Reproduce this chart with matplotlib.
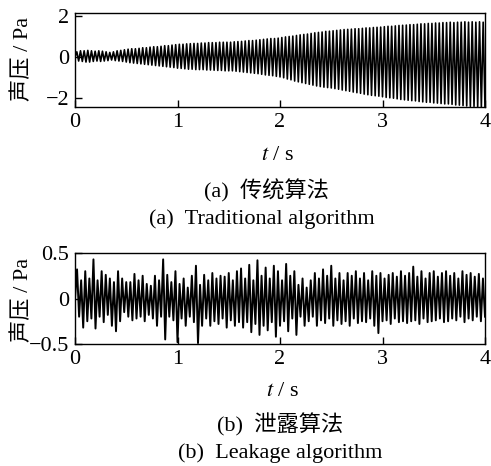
import numpy as np
import matplotlib
matplotlib.use("Agg")
import matplotlib.pyplot as plt

plt.rcParams["font.family"] = ["Liberation Serif", "Noto Sans CJK SC"]
plt.rcParams["mathtext.fontset"] = "stix"

# traditional algorithm: peak / trough of each cycle (Pa), 7 cycles per row (0.25 s)
trad_peaks = [
    0.25, 0.30, 0.30, 0.32, 0.30, 0.28, 0.30,
    0.28, 0.25, 0.22, 0.25, 0.30, 0.32, 0.35,
    0.38, 0.40, 0.40, 0.42, 0.45, 0.45, 0.48,
    0.50, 0.50, 0.52, 0.55, 0.55, 0.58, 0.60,
    0.62, 0.62, 0.64, 0.65, 0.66, 0.66, 0.68,
    0.68, 0.70, 0.70, 0.70, 0.72, 0.72, 0.72,
    0.72, 0.74, 0.75, 0.76, 0.78, 0.80, 0.80,
    0.82, 0.84, 0.86, 0.88, 0.90, 0.90, 0.92,
    0.95, 0.98, 1.00, 1.02, 1.05, 1.08, 1.10,
    1.12, 1.15, 1.18, 1.20, 1.22, 1.25, 1.26,
    1.28, 1.30, 1.32, 1.34, 1.35, 1.36, 1.38,
    1.38, 1.40, 1.42, 1.42, 1.44, 1.45, 1.46,
    1.48, 1.50, 1.50, 1.52, 1.54, 1.55, 1.56,
    1.58, 1.58, 1.60, 1.62, 1.62, 1.64, 1.64,
    1.66, 1.66, 1.68, 1.68, 1.70, 1.68, 1.70,
    1.70, 1.72, 1.70, 1.72, 1.70, 1.72, 1.70,
]
trad_troughs = [
    -0.20, -0.22, -0.25, -0.25, -0.22, -0.20, -0.22,
    -0.20, -0.18, -0.15, -0.18, -0.20, -0.22, -0.25,
    -0.28, -0.30, -0.32, -0.34, -0.36, -0.38, -0.40,
    -0.42, -0.44, -0.46, -0.48, -0.50, -0.52, -0.55,
    -0.56, -0.58, -0.60, -0.60, -0.62, -0.62, -0.62,
    -0.64, -0.64, -0.65, -0.66, -0.66, -0.68, -0.68,
    -0.68, -0.70, -0.72, -0.74, -0.76, -0.78, -0.80,
    -0.82, -0.85, -0.88, -0.90, -0.92, -0.95, -0.98,
    -1.02, -1.08, -1.12, -1.18, -1.22, -1.26, -1.30,
    -1.34, -1.38, -1.42, -1.45, -1.48, -1.50, -1.52,
    -1.55, -1.58, -1.62, -1.65, -1.68, -1.72, -1.75,
    -1.78, -1.82, -1.85, -1.88, -1.90, -1.92, -1.95,
    -1.98, -2.00, -2.02, -2.05, -2.08, -2.10, -2.12,
    -2.14, -2.15, -2.18, -2.20, -2.22, -2.22, -2.25,
    -2.26, -2.28, -2.30, -2.30, -2.32, -2.35, -2.36,
    -2.38, -2.40, -2.42, -2.42, -2.44, -2.44, -2.45,
]

# leakage algorithm: peak / trough of each cycle (Pa), 10 cycles per row (0.4 s)
leak_peaks = [
    0.32, 0.20, 0.30, 0.22, 0.43, 0.20, 0.30, 0.26, 0.22, 0.18,
    0.30, 0.22, 0.18, 0.18, 0.27, 0.20, 0.25, 0.16, 0.14, 0.25,
    0.20, 0.43, 0.26, 0.18, 0.30, 0.16, 0.22, 0.12, 0.25, 0.36,
    0.15, 0.26, 0.20, 0.28, 0.22, 0.25, 0.24, 0.28, 0.20, 0.30,
    0.33, 0.22, 0.37, 0.20, 0.42, 0.25, 0.34, 0.22, 0.36, 0.30,
    0.20, 0.38, 0.25, 0.30, 0.15, 0.22, 0.12, 0.20, 0.28, 0.22,
    0.32, 0.25, 0.36, 0.22, 0.28, 0.20, 0.28, 0.25, 0.30, 0.22,
    0.28, 0.20, 0.30, 0.25, 0.28, 0.22, 0.26, 0.28, 0.24, 0.30,
    0.25, 0.28, 0.35, 0.24, 0.30, 0.22, 0.28, 0.30, 0.24, 0.28,
    0.30, 0.25, 0.28, 0.22, 0.30, 0.26, 0.28, 0.24, 0.27, 0.22,
]
leak_troughs = [
    -0.20, -0.32, -0.25, -0.22, -0.33, -0.20, -0.26, -0.18, -0.30, -0.36,
    -0.25, -0.15, -0.20, -0.24, -0.22, -0.20, -0.25, -0.18, -0.22, -0.30,
    -0.20, -0.45, -0.20, -0.24, -0.48, -0.22, -0.30, -0.20, -0.26, -0.49,
    -0.30, -0.22, -0.30, -0.25, -0.28, -0.22, -0.32, -0.24, -0.30, -0.26,
    -0.32, -0.26, -0.37, -0.28, -0.40, -0.30, -0.35, -0.26, -0.42, -0.30,
    -0.25, -0.36, -0.22, -0.40, -0.20, -0.30, -0.25, -0.20, -0.30, -0.24,
    -0.27, -0.22, -0.30, -0.24, -0.28, -0.25, -0.30, -0.22, -0.27, -0.25,
    -0.26, -0.22, -0.30, -0.38, -0.25, -0.24, -0.28, -0.22, -0.26, -0.25,
    -0.27, -0.25, -0.24, -0.28, -0.22, -0.26, -0.25, -0.24, -0.22, -0.26,
    -0.25, -0.22, -0.24, -0.20, -0.26, -0.22, -0.24, -0.20, -0.25, -0.20,
]

T_END = 4.0
xticks = [0, 1, 2, 3, 4]
FS = 16


def to_wave(peaks, troughs, t_end=T_END):
    y = np.column_stack([peaks, troughs]).ravel()
    y = np.concatenate([[0.0], y])
    t = np.linspace(0, t_end, y.size)
    return t, y


def style_axes(ax, ylim, yticks, yticklabels):
    ax.set_xlim(0, T_END)
    ax.set_ylim(*ylim)
    ax.set_xticks(xticks)
    ax.set_yticks(yticks)
    ax.set_yticklabels(yticklabels)
    ax.tick_params(direction="in", length=5, width=1, labelsize=FS,
                   pad=4, colors="black")
    for sp in ax.spines.values():
        sp.set_linewidth(1.0)


W, H = 491, 466
fig = plt.figure(figsize=(W / 100, H / 100), dpi=100)


def px_axes(left, top, right, bottom):
    return fig.add_axes([left / W, 1 - bottom / H, (right - left) / W, (bottom - top) / H])


ax1 = px_axes(75, 13, 485, 107)
t, y = to_wave(trad_peaks, trad_troughs)
ax1.plot(t, y, color="black", lw=1.2)
style_axes(ax1, (-2.45, 2.15), [-2, 0, 2], ["−2", "0", "2"])

ax2 = px_axes(75, 253, 485, 344)
t, y = to_wave(leak_peaks, leak_troughs)
ax2.plot(t, y, color="black", lw=1.4)
style_axes(ax2, (-0.5, 0.5), [-0.5, 0, 0.5], ["−0.5", "0", "0.5"])

ylab = "声压 / Pa"
fig.text(23 / W, 1 - 59 / H, ylab, rotation=90, ha="center", va="center", fontsize=FS)
fig.text(23 / W, 1 - 300 / H, ylab, rotation=90, ha="center", va="center", fontsize=FS)

fig.text(278 / W, 1 - 155 / H, "$t$ / s", ha="center", va="center", fontsize=FS)
fig.text(267 / W, 1 - 191 / H, "(a)  传统算法", ha="center", va="center", fontsize=FS)
fig.text(262 / W, 1 - 219 / H, "(a)  Traditional algorithm", ha="center", va="center", fontsize=FS)

fig.text(283 / W, 1 - 392 / H, "$t$ / s", ha="center", va="center", fontsize=FS)
fig.text(280 / W, 1 - 425 / H, "(b)  泄露算法", ha="center", va="center", fontsize=FS)
fig.text(280 / W, 1 - 453 / H, "(b)  Leakage algorithm", ha="center", va="center", fontsize=FS)

fig.savefig("out.png", dpi=100)
